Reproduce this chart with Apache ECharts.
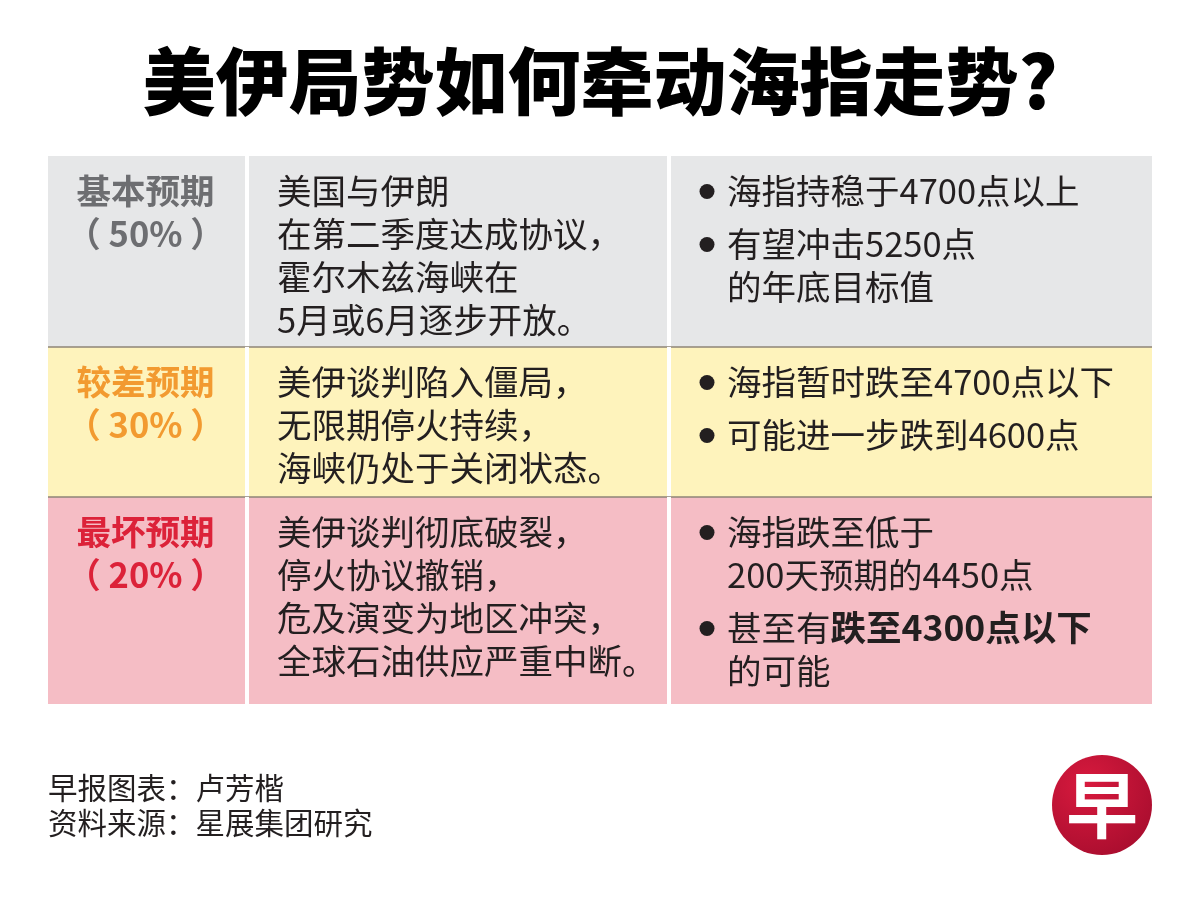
<!DOCTYPE html>
<html><head><meta charset="utf-8">
<script src="https://cdn.jsdelivr.net/npm/echarts@6/dist/echarts.min.js"></script>
<style>html,body{margin:0;padding:0;background:#fff}#c{width:1200px;height:904px}</style>
</head><body><div id="c"></div>
<script>
// ---------- data ----------
const titleText = '美伊局势如何牵动海指走势?';
const scenarios = ['基本预期', '较差预期', '最坏预期'];
const probabilities = ['（ 50% ）', '（ 30% ）', '（ 20% ）'];
const descriptions = [
  ['美国与伊朗', '在第二季度达成协议，', '霍尔木兹海峡在', '5月或6月逐步开放。'],
  ['美伊谈判陷入僵局，', '无限期停火持续，', '海峡仍处于关闭状态。'],
  ['美伊谈判彻底破裂，', '停火协议撤销，', '危及演变为地区冲突，', '全球石油供应严重中断。']
];
const outlooks = [
  [['海指持稳于4700点以上'], ['有望冲击5250点', '的年底目标值']],
  [['海指暂时跌至4700点以下'], ['可能进一步跌到4600点']],
  [['海指跌至低于', '200天预期的4450点'], ['甚至有{b|跌至4300点以下}', '的可能']]
];
const footerLines = ['早报图表：卢芳楷', '资料来源：星展集团研究'];
const logoText = '早';

// ---------- layout / style ----------
const FONT = "'Noto Sans CJK SC', 'Noto Sans', sans-serif";
const TABLE = { left: 48, top: 156, width: 1104 };
const COL_EDGES = [0, 199, 621, 1104];
const ROW_HEIGHTS = [191, 150, 207];
const TABLE_H = ROW_HEIGHTS.reduce((a, b) => a + b, 0);
const ROW_BG = ['#e6e7e8', '#fef3bc', '#f5bdc5'];
const HEAD_COLOR = ['#6d6e71', '#f29a30', '#dc2239'];
const TEXT_COLOR = '#231f20';
const FS = 34.5, LH = 43, PARA_GAP = 10, TOP_PAD = 13;

function renderRow(params, api) {
  const i = params.dataIndex;
  let y0 = 0;
  for (let k = 0; k < i; k++) y0 += ROW_HEIGHTS[k];
  const y1 = y0 + ROW_HEIGHTS[i];
  const tl = api.coord([0, y0]);
  const br = api.coord([TABLE.width, y1]);
  const cx = COL_EDGES.map(e => api.coord([e, y0])[0]);
  const top = tl[1];
  const children = [];
  children.push({ type: 'rect', shape: { x: tl[0], y: tl[1], width: br[0] - tl[0], height: br[1] - tl[1] }, style: { fill: ROW_BG[i] } });
  if (i > 0) {
    children.push({ type: 'line', shape: { x1: tl[0], y1: top, x2: br[0], y2: top }, style: { stroke: '#8e8577', lineWidth: 1.5 } });
  }
  [1, 2].forEach(k => {
    children.push({ type: 'rect', shape: { x: cx[k] - 2, y: tl[1], width: 4, height: br[1] - tl[1] }, style: { fill: '#ffffff' } });
  });
  // header
  children.push({
    type: 'text',
    style: {
      x: (cx[0] + cx[1]) / 2 - 2, y: top + TOP_PAD,
      text: '{h|' + scenarios[i] + '}\n{p|' + probabilities[i] + '}',
      align: 'center', verticalAlign: 'top',
      rich: {
        h: { fontFamily: FONT, fontSize: FS, fontWeight: 'bold', fill: HEAD_COLOR[i], lineHeight: LH },
        p: { fontFamily: FONT, fontSize: FS, fontWeight: 'bold', fill: HEAD_COLOR[i], lineHeight: LH }
      }
    }
  });
  // description
  children.push({
    type: 'text',
    style: {
      x: cx[1] + 30, y: top + TOP_PAD,
      text: descriptions[i].join('\n'),
      fontFamily: FONT, fontSize: FS, lineHeight: LH, fill: TEXT_COLOR,
      align: 'left', verticalAlign: 'top'
    }
  });
  // outlook bullets
  let cy = top + TOP_PAD;
  outlooks[i].forEach(par => {
    children.push({ type: 'circle', shape: { cx: cx[2] + 38, cy: cy + LH / 2 + 1, r: 7.5 }, style: { fill: TEXT_COLOR } });
    children.push({
      type: 'text',
      style: {
        x: cx[2] + 58, y: cy,
        text: par.join('\n'),
        fontFamily: FONT, fontSize: FS, lineHeight: LH, fill: TEXT_COLOR,
        align: 'left', verticalAlign: 'top',
        rich: { b: { fontFamily: FONT, fontSize: FS + 1, fontWeight: 'bold', fill: TEXT_COLOR, lineHeight: LH } }
      }
    });
    cy += par.length * LH + PARA_GAP;
  });
  return { type: 'group', children };
}

const chart = echarts.init(document.getElementById('c'), null, { renderer: 'canvas' });
chart.setOption({
  backgroundColor: '#ffffff',
  animation: false,
  title: {
    text: titleText, left: 'center', top: 40,
    textStyle: { fontFamily: FONT, fontSize: 73, fontWeight: 900, color: '#000000' }
  },
  grid: { left: TABLE.left, top: TABLE.top, width: TABLE.width, height: TABLE_H },
  xAxis: { type: 'value', min: 0, max: TABLE.width, show: false },
  yAxis: { type: 'value', min: 0, max: TABLE_H, inverse: true, show: false },
  series: [{
    type: 'custom',
    coordinateSystem: 'cartesian2d',
    data: scenarios.map((s, i) => [0, i]),
    renderItem: renderRow,
    silent: true
  }],
  graphic: [
    {
      type: 'text', left: 48, top: 770,
      style: { text: footerLines.join('\n'), fontFamily: FONT, fontSize: 29.5, lineHeight: 35, fill: TEXT_COLOR }
    },
    {
      type: 'circle', shape: { cx: 1102, cy: 805, r: 50 },
      style: {
        fill: new echarts.graphic.RadialGradient(0.35, 0.3, 0.8, [
          { offset: 0, color: '#d81a3e' }, { offset: 1, color: '#a80d2e' }
        ])
      }
    },
    {
      type: 'text', x: 1102, y: 805,
      style: { text: logoText, fontFamily: FONT, fontSize: 72, fontWeight: 'bold', fill: '#ffffff', align: 'center', verticalAlign: 'middle' }
    }
  ]
});
</script></body></html>
